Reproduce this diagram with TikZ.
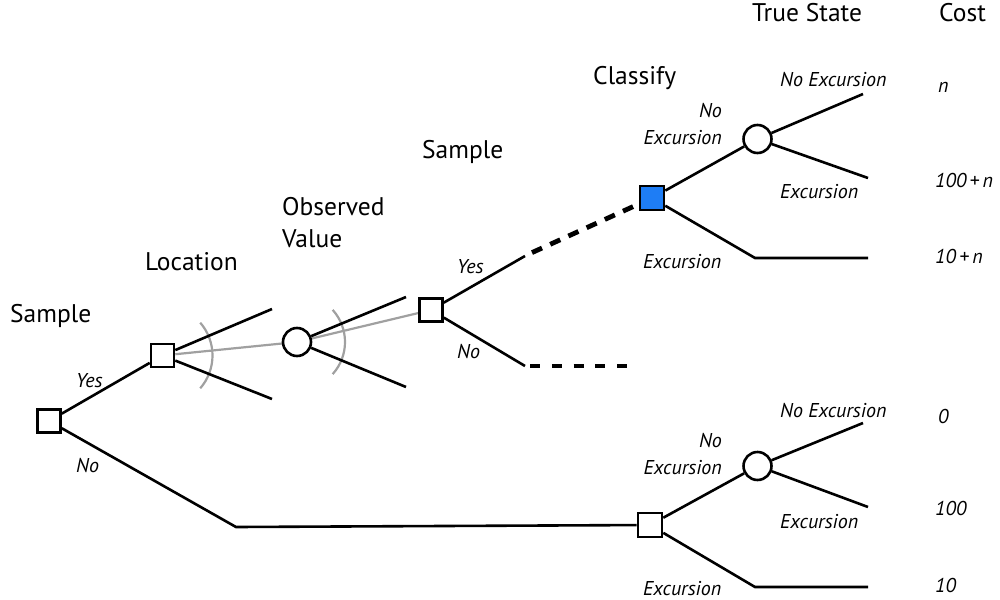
\documentclass[tikz,border=0pt]{standalone}
\usepackage{fontspec}
\setmainfont{PT Sans}
\usetikzlibrary{backgrounds}
\definecolor{nodeblue}{RGB}{30,125,245}
\definecolor{arcgray}{RGB}{160,160,160}
\tikzset{
  dsq/.style={draw, line width=2.6pt, minimum size=23pt, inner sep=0pt, fill=white},
  chance/.style={circle, draw, line width=2.6pt, minimum size=28pt, inner sep=0pt, fill=white},
  br/.style={line width=2.6pt},
  grl/.style={draw=arcgray, line width=2.2pt},
  dsh/.style={line width=4.8pt, dash pattern=on 11pt off 9pt},
  hd/.style={font=\fontsize{25.5}{30}\selectfont, inner sep=0pt},
  lab/.style={font=\itshape\fontsize{20}{27}\selectfont, inner sep=0pt},
}
\begin{document}
\begin{tikzpicture}[x=1pt,y=-1pt]
\useasboundingbox (0,0) rectangle (1000,599);
% decision / chance nodes
\node[dsq] (S0) at (49,421) {};
\node[dsq] (L) at (162.5,355.5) {};
\node[chance] (O) at (297,342) {};
\node[dsq] (S1) at (431,310) {};
\node[dsq, fill=nodeblue, minimum size=24pt] (B) at (652,198) {};
\node[chance] (C1) at (757.5,139) {};
\node[dsq, minimum size=24pt] (S2) at (650,525) {};
\node[chance] (C2) at (757.5,466) {};
% free ends
\coordinate (lu) at (272,309);
\coordinate (ld) at (272,399);
\coordinate (ou) at (406,297);
\coordinate (od) at (406,387);
\coordinate (y1) at (525,256);
\coordinate (y2) at (532,252.6);
\coordinate (n1) at (525,366);
\coordinate (n2) at (530,366);
\coordinate (n3) at (627,366);
\coordinate (k1) at (236,527);
\coordinate (c1u) at (863,94);
\coordinate (c1d) at (868,178);
\coordinate (e1) at (755,258);
\coordinate (e2) at (868,258);
\coordinate (c2u) at (863,423);
\coordinate (c2d) at (868,507);
\coordinate (f1) at (755,587);
\coordinate (f2) at (868,587);
\begin{scope}[on background layer]
\draw[grl] (L) -- (O);
\draw[grl] (O) -- (S1);
\draw[grl] (L.center) ++(-41:50) arc(-41:41:50);
\draw[grl] (O.center) ++(-42:48) arc(-42:42:48);
\draw[br] (S0) -- (L);
\draw[br] (S0) -- (k1) -- (S2);
\draw[br] (L) -- (lu);
\draw[br] (L) -- (ld);
\draw[br] (O) -- (ou);
\draw[br] (O) -- (od);
\draw[br] (S1) -- (y1);
\draw[dsh] (y2) -- (B);
\draw[br] (S1) -- (n1);
\draw[line width=4.8pt, dash pattern=on 10pt off 11.75pt] (n2) -- (n3);
\draw[br] (B) -- (C1);
\draw[br] (B) -- (e1) -- (e2);
\draw[br] (C1) -- (c1u);
\draw[br] (C1) -- (c1d);
\draw[br] (S2) -- (C2);
\draw[br] (S2) -- (f1) -- (f2);
\draw[br] (C2) -- (c2u);
\draw[br] (C2) -- (c2d);
\end{scope}
% headings
\node[hd, anchor=base west] (h1) at (10,322) {Sample};
\node[hd, anchor=base west] (h2) at (145,270) {Location};
\node[hd, anchor=base west] (h3) at (282,215) {Observed};
\node[hd, anchor=base west] (h3b) at (282,247) {Value};
\node[hd, anchor=base west] (h4) at (422,158) {Sample};
\node[hd, anchor=base west] (h5) at (593,85) {Classify};
\node[hd, anchor=base west] (h6) at (752,22) {True State};
\node[hd, anchor=base west] (h7) at (939,22) {Cost};
% branch labels
\node[lab, anchor=base west] (t1) at (76,387) {Yes};
\node[lab, anchor=base west] (t2) at (76,472) {No};
\node[lab, anchor=base west] (t3) at (457,273) {Yes};
\node[lab, anchor=base west] (t4) at (457,358) {No};
\node[lab, anchor=base west] (t5) at (780,87) {No Excursion};
\node[lab, anchor=south east, align=right] (t6) at (722,145) {No\\Excursion};
\node[lab, anchor=base west] (t7) at (780,198) {Excursion};
\node[lab, anchor=base west] (t8) at (643,268) {Excursion};
\node[lab, anchor=base west] (t9) at (780,417) {No Excursion};
\node[lab, anchor=south east, align=right] (t10) at (722,475) {No\\Excursion};
\node[lab, anchor=base west] (t11) at (780,528) {Excursion};
\node[lab, anchor=base west] (t12) at (643,595) {Excursion};
% costs
\node[lab, anchor=base west] (p1) at (938,93) {n};
\node[lab, anchor=base west] (p2) at (935,187) {100\,+\,n};
\node[lab, anchor=base west] (p3) at (935,263) {10\,+\,n};
\node[lab, anchor=base west] (p4) at (938,423) {0};
\node[lab, anchor=base west] (p5) at (935,515) {100};
\node[lab, anchor=base west] (p6) at (935,592) {10};
\end{tikzpicture}
\end{document}
